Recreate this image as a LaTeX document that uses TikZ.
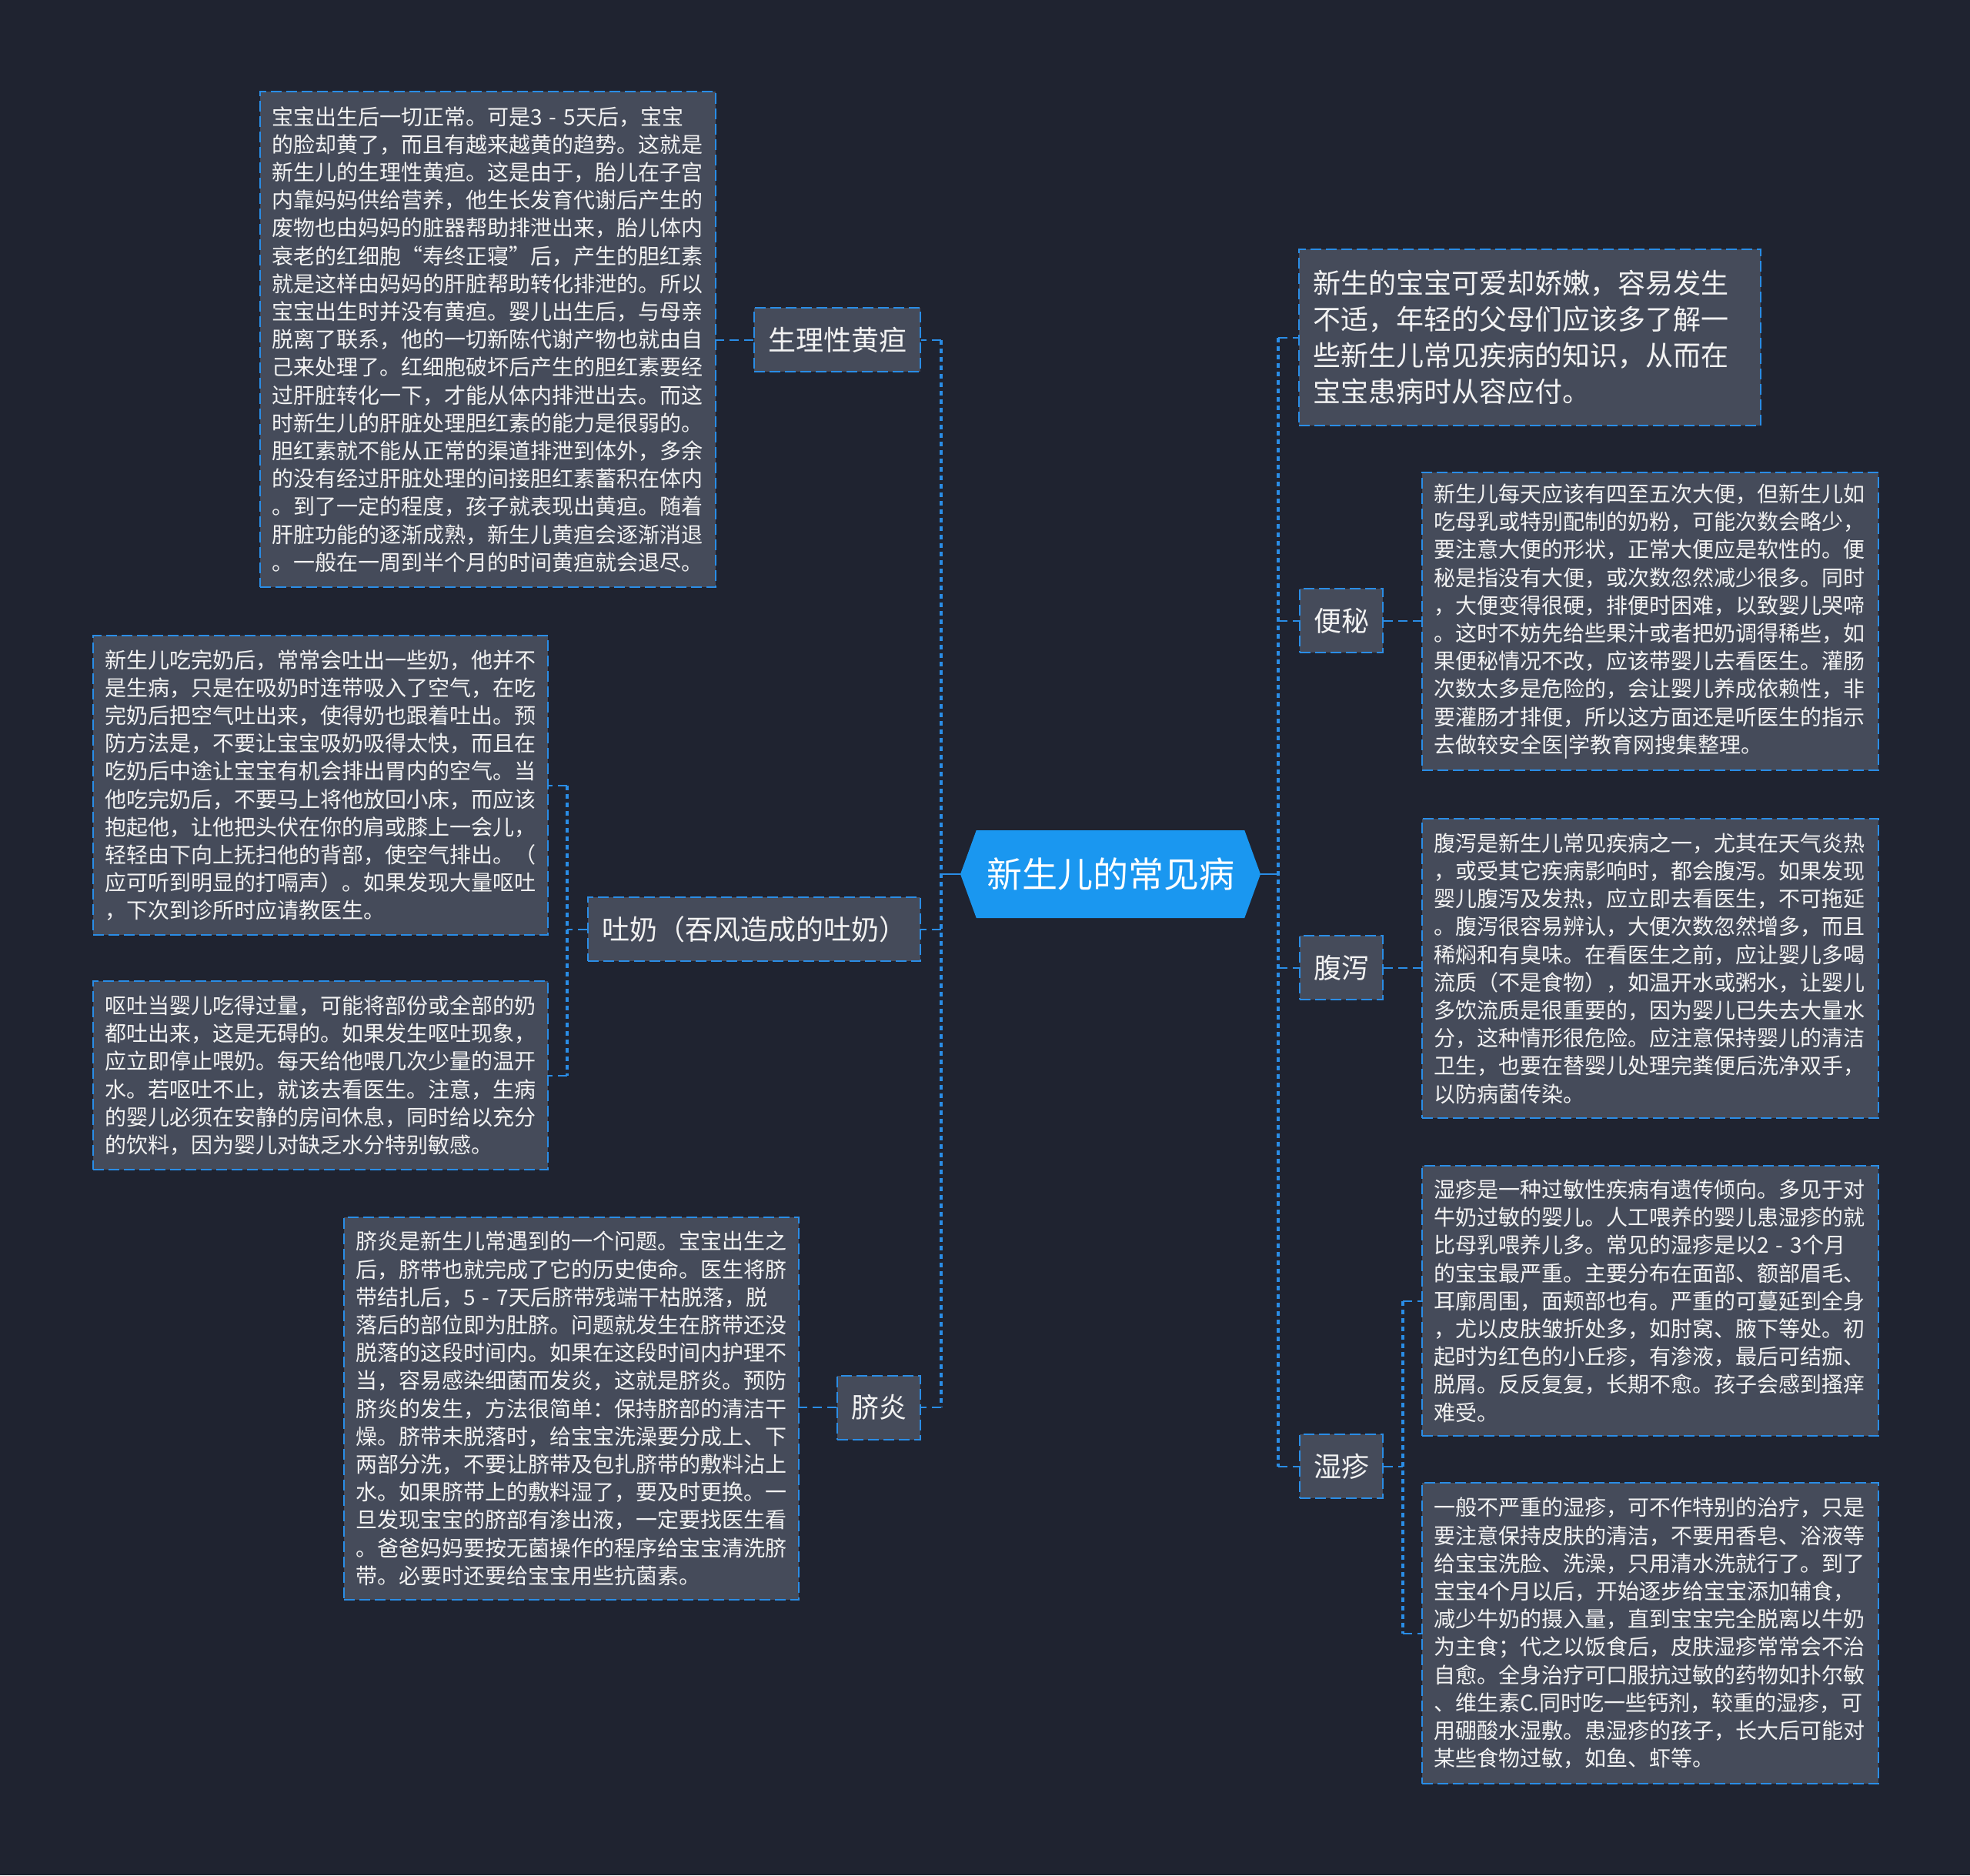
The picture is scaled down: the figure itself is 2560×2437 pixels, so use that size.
\documentclass[tikz,border=0pt]{standalone}
\usepackage{fontspec}
\setmainfont{Noto Sans CJK SC}
\usetikzlibrary{shapes.symbols}
\definecolor{mapbg}{HTML}{1F2330}
\definecolor{boxfill}{HTML}{454B5A}
\definecolor{mapblue}{HTML}{2A8DE6}
\definecolor{rootblue}{HTML}{1A97F0}
\definecolor{mapwhite}{HTML}{F2F2F2}

\begin{document}
\begin{tikzpicture}[x=1pt, y=-1pt,
    root/.style={signal, signal to=west and east, signal pointer angle=140,
      fill=rootblue, minimum width=390pt, minimum height=114pt, inner sep=0pt,
      text=white, font=\fontsize{46}{50}\selectfont},
    topic/.style={rectangle, draw=mapblue, fill=boxfill, line width=2pt,
      dash pattern=on 14pt off 6pt, minimum height=83pt, inner xsep=18pt,
      text=mapwhite, font=\fontsize{36}{40}\selectfont},
    detail/.style={rectangle, draw=mapblue, fill=boxfill, line width=2pt,
      dash pattern=on 14pt off 6pt, anchor=north west, align=left, inner xsep=15pt,
      text=mapwhite, font=\fontsize{28}{36.2}\selectfont},
    stub/.style={mapblue, line width=2pt, dash pattern=on 12pt off 7pt},
    bus/.style={mapblue, line width=4pt, dash pattern=on 6pt off 5pt},
    link/.style={mapblue, line width=2.5pt}
  ]
    \fill[mapbg] (0,0) rectangle (2560,2437);
    \useasboundingbox (0,0) rectangle (2560,2437);

    % Centre
    \node[root] (root) at (1443,1136) {新生儿的常见病};

    % Left topics
    \node[topic, anchor=east] (jaundice) at (1197,441.5) {生理性黄疸};
    \node[topic, anchor=east] (vomit) at (1197,1207.5) {吐奶（吞风造成的吐奶）};
    \node[topic, anchor=east] (navel) at (1197,1829) {脐炎};

    % Right topics
    \node[detail, text width=564pt, inner xsep=18pt, minimum height=229pt,
      font=\fontsize{36}{47}\selectfont] (intro) at (1687,323) {
      新生的宝宝可爱却娇嫩，容易发生\\
      不适，年轻的父母们应该多了解一\\
      些新生儿常见疾病的知识，从而在\\
      宝宝患病时从容应付。};
    \node[topic, anchor=west] (constip) at (1688,806.5) {便秘};
    \node[topic, anchor=west] (diarrhea) at (1688,1257.5) {腹泻};
    \node[topic, anchor=west] (eczema) at (1688,1905.5) {湿疹};

    % Left details
    \node[detail, text width=562pt, minimum height=644pt] (jaundiceTxt) at (337,118) {
      宝宝出生后一切正常。可是3 - 5天后，宝宝\\
      的脸却黄了，而且有越来越黄的趋势。这就是\\
      新生儿的生理性黄疸。这是由于，胎儿在子宫\\
      内靠妈妈供给营养，他生长发育代谢后产生的\\
      废物也由妈妈的脏器帮助排泄出来，胎儿体内\\
      衰老的红细胞“寿终正寝”后，产生的胆红素\\
      就是这样由妈妈的肝脏帮助转化排泄的。所以\\
      宝宝出生时并没有黄疸。婴儿出生后，与母亲\\
      脱离了联系，他的一切新陈代谢产物也就由自\\
      己来处理了。红细胞破坏后产生的胆红素要经\\
      过肝脏转化一下，才能从体内排泄出去。而这\\
      时新生儿的肝脏处理胆红素的能力是很弱的。\\
      胆红素就不能从正常的渠道排泄到体外，多余\\
      的没有经过肝脏处理的间接胆红素蓄积在体内\\
      。到了一定的程度，孩子就表现出黄疸。随着\\
      肝脏功能的逐渐成熟，新生儿黄疸会逐渐消退\\
      。一般在一周到半个月的时间黄疸就会退尽。};
    \node[detail, text width=561pt, minimum height=389pt] (vomitTxtA) at (120,825) {
      新生儿吃完奶后，常常会吐出一些奶，他并不\\
      是生病，只是在吸奶时连带吸入了空气，在吃\\
      完奶后把空气吐出来，使得奶也跟着吐出。预\\
      防方法是，不要让宝宝吸奶吸得太快，而且在\\
      吃奶后中途让宝宝有机会排出胃内的空气。当\\
      他吃完奶后，不要马上将他放回小床，而应该\\
      抱起他，让他把头伏在你的肩或膝上一会儿，\\
      轻轻由下向上抚扫他的背部，使空气排出。（\\
      应可听到明显的打嗝声）。如果发现大量呕吐\\
      ，下次到诊所时应请教医生。};
    \node[detail, text width=561pt, minimum height=245pt] (vomitTxtB) at (120,1274) {
      呕吐当婴儿吃得过量，可能将部份或全部的奶\\
      都吐出来，这是无碍的。如果发生呕吐现象，\\
      应立即停止喂奶。每天给他喂几次少量的温开\\
      水。若呕吐不止，就该去看医生。注意，生病\\
      的婴儿必须在安静的房间休息，同时给以充分\\
      的饮料，因为婴儿对缺乏水分特别敏感。};
    \node[detail, text width=561pt, minimum height=497pt] (navelTxt) at (446,1581) {
      脐炎是新生儿常遇到的一个问题。宝宝出生之\\
      后，脐带也就完成了它的历史使命。医生将脐\\
      带结扎后，5 - 7天后脐带残端干枯脱落，脱\\
      落后的部位即为肚脐。问题就发生在脐带还没\\
      脱落的这段时间内。如果在这段时间内护理不\\
      当，容易感染细菌而发炎，这就是脐炎。预防\\
      脐炎的发生，方法很简单：保持脐部的清洁干\\
      燥。脐带未脱落时，给宝宝洗澡要分成上、下\\
      两部分洗，不要让脐带及包扎脐带的敷料沾上\\
      水。如果脐带上的敷料湿了，要及时更换。一\\
      旦发现宝宝的脐部有渗出液，一定要找医生看\\
      。爸爸妈妈要按无菌操作的程序给宝宝清洗脐\\
      带。必要时还要给宝宝用些抗菌素。};

    % Right details
    \node[detail, text width=563pt, minimum height=387pt] (constipTxt) at (1847,613) {
      新生儿每天应该有四至五次大便，但新生儿如\\
      吃母乳或特别配制的奶粉，可能次数会略少，\\
      要注意大便的形状，正常大便应是软性的。便\\
      秘是指没有大便，或次数忽然减少很多。同时\\
      ，大便变得很硬，排便时困难，以致婴儿哭啼\\
      。这时不妨先给些果汁或者把奶调得稀些，如\\
      果便秘情况不改，应该带婴儿去看医生。灌肠\\
      次数太多是危险的，会让婴儿养成依赖性，非\\
      要灌肠才排便，所以这方面还是听医生的指示\\
      去做较安全医|学教育网搜集整理。};
    \node[detail, text width=563pt, minimum height=389pt] (diarrheaTxt) at (1847,1063) {
      腹泻是新生儿常见疾病之一，尤其在天气炎热\\
      ，或受其它疾病影响时，都会腹泻。如果发现\\
      婴儿腹泻及发热，应立即去看医生，不可拖延\\
      。腹泻很容易辨认，大便次数忽然增多，而且\\
      稀焖和有臭味。在看医生之前，应让婴儿多喝\\
      流质（不是食物），如温开水或粥水，让婴儿\\
      多饮流质是很重要的，因为婴儿已失去大量水\\
      分，这种情形很危险。应注意保持婴儿的清洁\\
      卫生，也要在替婴儿处理完粪便后洗净双手，\\
      以防病菌传染。};
    \node[detail, text width=563pt, minimum height=351pt] (eczemaTxtA) at (1847,1514) {
      湿疹是一种过敏性疾病有遗传倾向。多见于对\\
      牛奶过敏的婴儿。人工喂养的婴儿患湿疹的就\\
      比母乳喂养儿多。常见的湿疹是以2 - 3个月\\
      的宝宝最严重。主要分布在面部、额部眉毛、\\
      耳廓周围，面颊部也有。严重的可蔓延到全身\\
      ，尤以皮肤皱折处多，如肘窝、腋下等处。初\\
      起时为红色的小丘疹，有渗液，最后可结痂、\\
      脱屑。反反复复，长期不愈。孩子会感到搔痒\\
      难受。};
    \node[detail, text width=563pt, minimum height=391pt] (eczemaTxtB) at (1847,1926) {
      一般不严重的湿疹，可不作特别的治疗，只是\\
      要注意保持皮肤的清洁，不要用香皂、浴液等\\
      给宝宝洗脸、洗澡，只用清水洗就行了。到了\\
      宝宝4个月以后，开始逐步给宝宝添加辅食，\\
      减少牛奶的摄入量，直到宝宝完全脱离以牛奶\\
      为主食；代之以饭食后，皮肤湿疹常常会不治\\
      自愈。全身治疗可口服抗过敏的药物如扑尔敏\\
      、维生素C.同时吃一些钙剂，较重的湿疹，可\\
      用硼酸水湿敷。患湿疹的孩子，长大后可能对\\
      某些食物过敏，如鱼、虾等。};

    % Branch points
    \coordinate (lbus) at (1223,1136);
    \coordinate (rbus) at (1661,1136);
    \coordinate (vbus) at (737,1207.5);
    \coordinate (ebus) at (1823,1905.5);

    % Centre to topics
    \draw[link] (root.west) -- (lbus);
    \draw[link] (root.east) -- (rbus);
    \draw[bus] (lbus |- jaundice.east) -- (lbus |- navel.east);
    \draw[bus] (rbus |- intro.west) -- (rbus |- eczema.west);
    \draw[stub] (lbus |- jaundice.east) -- (jaundice.east);
    \draw[stub] (lbus |- vomit.east) -- (vomit.east);
    \draw[stub] (lbus |- navel.east) -- (navel.east);
    \draw[stub] (rbus |- intro.west) -- (intro.west);
    \draw[stub] (rbus |- constip.west) -- (constip.west);
    \draw[stub] (rbus |- diarrhea.west) -- (diarrhea.west);
    \draw[stub] (rbus |- eczema.west) -- (eczema.west);

    % Topics to details
    \draw[stub] (jaundice.west) -- (jaundice.west -| jaundiceTxt.east);
    \draw[stub] (vomit.west) -- (vbus);
    \draw[bus] (vbus |- vomitTxtA.east) -- (vbus |- vomitTxtB.east);
    \draw[stub] (vbus |- vomitTxtA.east) -- (vomitTxtA.east);
    \draw[stub] (vbus |- vomitTxtB.east) -- (vomitTxtB.east);
    \draw[stub] (navel.west) -- (navel.west -| navelTxt.east);
    \draw[stub] (constip.east) -- (constip.east -| constipTxt.west);
    \draw[stub] (diarrhea.east) -- (diarrhea.east -| diarrheaTxt.west);
    \draw[stub] (eczema.east) -- (ebus);
    \draw[bus] (ebus |- eczemaTxtA.west) -- (ebus |- eczemaTxtB.west);
    \draw[stub] (ebus |- eczemaTxtA.west) -- (eczemaTxtA.west);
    \draw[stub] (ebus |- eczemaTxtB.west) -- (eczemaTxtB.west);
\end{tikzpicture}
\end{document}
